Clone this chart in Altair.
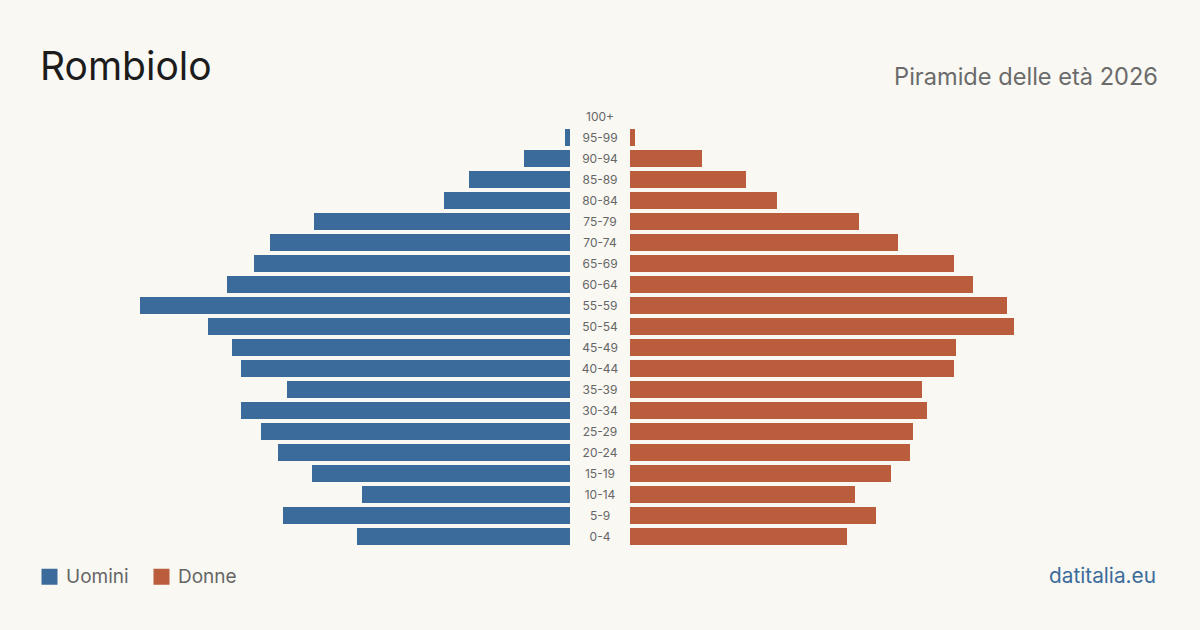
import altair as alt
import pandas as pd

# Age groups, top of the pyramid first
ages = ["100+", "95-99", "90-94", "85-89", "80-84", "75-79", "70-74", "65-69",
        "60-64", "55-59", "50-54", "45-49", "40-44", "35-39", "30-34", "25-29",
        "20-24", "15-19", "10-14", "5-9", "0-4"]
men = [0, 5, 46, 101, 126, 256, 300, 316, 343, 430, 362, 338, 329, 283, 329,
       309, 292, 258, 208, 287, 213]
women = [0, 5, 72, 116, 147, 229, 268, 324, 343, 377, 384, 326, 324, 292, 297,
         283, 280, 261, 225, 246, 217]

sexes = ["Uomini", "Donne"]
colors = ["#3b6b9b", "#ba5d3d"]

rows = []
for a, m, w in zip(ages, men, women):
    rows.append({"age": a, "sex": "Uomini", "value": m})
    rows.append({"age": a, "sex": "Donne", "value": w})
df = pd.DataFrame(rows)

FONT = "Inter"
BG = "#f9f8f3"
VMAX = 430

# 21 bands of 21px each, bars 17px tall
y_enc = alt.Y("age:N", sort=ages, axis=None,
              scale=alt.Scale(range=[108, 545], paddingInner=4 / 21, paddingOuter=0))
color_enc = alt.Color(
    "sex:N",
    scale=alt.Scale(domain=sexes, range=colors),
    legend=alt.Legend(
        title=None, orient="none", legendX=40, legendY=567, direction="horizontal",
        symbolType="square", symbolSize=256, symbolStrokeWidth=0, symbolOpacity=1,
        labelFontSize=19, labelColor="#666666", labelFont=FONT, labelOffset=7,
        columnPadding=23, padding=0, offset=0,
    ),
)

base = alt.Chart(df)

men_bars = base.transform_filter(alt.datum.sex == "Uomini").mark_bar().encode(
    x=alt.X("value:Q", axis=None,
            scale=alt.Scale(domain=[0, VMAX], range=[570, 140], nice=False)),
    y=y_enc,
    color=color_enc,
)

women_bars = base.transform_filter(alt.datum.sex == "Donne").mark_bar().encode(
    x=alt.X("value:Q", axis=None,
            scale=alt.Scale(domain=[0, VMAX], range=[630, 1060], nice=False)),
    y=y_enc,
    color=color_enc,
)

age_labels = alt.Chart(pd.DataFrame({"age": ages})).mark_text(
    font=FONT, fontSize=12, color="#666666", align="center", baseline="middle"
).encode(x=alt.value(600), y=y_enc, text="age:N")

one = pd.DataFrame({"k": [0]})
title = alt.Chart(one).mark_text(
    font=FONT, fontSize=39, color="#1c1c1c", align="left", baseline="alphabetic"
).encode(x=alt.value(40), y=alt.value(80), text=alt.value("Rombiolo"))

subtitle = alt.Chart(one).mark_text(
    font=FONT, fontSize=23.6, color="#6b6b6b", align="right", baseline="alphabetic"
).encode(x=alt.value(1158), y=alt.value(85), text=alt.value("Piramide delle età 2026"))

source = alt.Chart(one).mark_text(
    font=FONT, fontSize=20.8, color="#3b6b9b", align="right", baseline="alphabetic"
).encode(x=alt.value(1156), y=alt.value(583), text=alt.value("datitalia.eu"))

chart = alt.layer(
    men_bars, women_bars, age_labels, title, subtitle, source
).resolve_scale(x="independent").properties(
    width=1200, height=630, padding=0, background=BG,
    autosize=alt.AutoSizeParams(type="none"),
).configure_view(stroke=None, fill=BG)

chart.save("out.html", embed_options={"renderer": "svg", "actions": False})
